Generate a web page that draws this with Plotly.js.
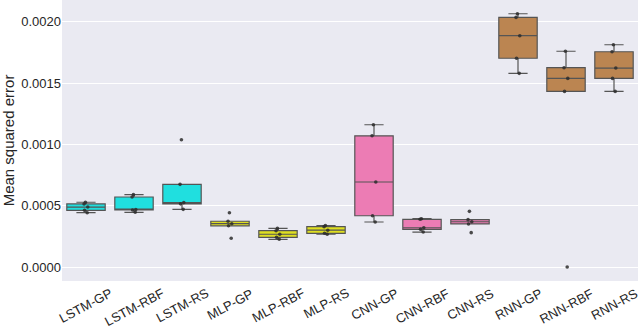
<!DOCTYPE html>
<html>
<head>
<meta charset="utf-8">
<script src="https://cdn.plot.ly/plotly-3.0.1.min.js"></script>
<style>
  html, body { margin: 0; padding: 0; background: #fff; }
  #plot { width: 640px; height: 326px; }
</style>
</head>
<body>
<div id="plot"></div>
<script>
// model / search-method combinations (5 runs each)
const categories = ['LSTM-GP', 'LSTM-RBF', 'LSTM-RS', 'MLP-GP', 'MLP-RBF', 'MLP-RS',
                    'CNN-GP', 'CNN-RBF', 'CNN-RS', 'RNN-GP', 'RNN-RBF', 'RNN-RS'];

const lstmGP  = [0.000443, 0.000462, 0.000489, 0.000514, 0.000528];
const lstmRBF = [0.000446, 0.000465, 0.000468, 0.000571, 0.000590];
const lstmRS  = [0.000470, 0.000515, 0.000525, 0.000674, 0.001038];
const mlpGP   = [0.000234, 0.000336, 0.000353, 0.000373, 0.000443];
const mlpRBF  = [0.000226, 0.000242, 0.000267, 0.000296, 0.000315];
const mlpRS   = [0.000267, 0.000275, 0.000300, 0.000329, 0.000338];
const cnnGP   = [0.000367, 0.000418, 0.000693, 0.001070, 0.001160];
const cnnRBF  = [0.000285, 0.000307, 0.000320, 0.000389, 0.000394];
const cnnRS   = [0.000280, 0.000351, 0.000369, 0.000386, 0.000454];
const rnnGP   = [0.001579, 0.001702, 0.001886, 0.002035, 0.002065];
const rnnRBF  = [0.000000, 0.001432, 0.001538, 0.001625, 0.001759];
const rnnRS   = [0.001432, 0.001538, 0.001622, 0.001755, 0.001812];

const series = [lstmGP, lstmRBF, lstmRS, mlpGP, mlpRBF, mlpRS,
                cnnGP, cnnRBF, cnnRS, rnnGP, rnnRBF, rnnRS];

// seaborn palette (cyan, yellow, hotpink, peru) at 0.75 saturation
const familyColors = ['#20dfdf', '#dfdf20', '#ec7cb4', '#bb8551'];

const textColor = '#262626';
const fontFamily = '"Liberation Sans", Arial, sans-serif';

const traces = categories.map((cat, i) => ({
    type: 'box',
    name: cat,
    x: series[i].map(() => cat),
    y: series[i],
    boxpoints: 'all',
    jitter: 0.12,
    pointpos: 0,
    width: 0.8,
    whiskerwidth: 0.5,
    quartilemethod: 'inclusive',
    fillcolor: familyColors[Math.floor(i / 3)],
    line: {color: '#555555', width: 1.2},
    marker: {color: 'rgba(45,45,45,0.85)', size: 3.6},
    showlegend: false,
    hoverinfo: 'y'
}));

// rotated category labels, centred under each box like matplotlib does
const labels = categories.map(cat => ({
    x: cat,
    xref: 'x',
    y: 0,
    yref: 'paper',
    yanchor: 'top',
    xanchor: 'center',
    yshift: -2,
    text: cat,
    textangle: -28,
    showarrow: false,
    font: {family: fontFamily, size: 13, color: textColor}
}));

const layout = {
    width: 640,
    height: 326,
    margin: {l: 62, r: 2, t: 0, b: 45},
    paper_bgcolor: '#ffffff',
    plot_bgcolor: '#eaeaf2',
    font: {family: fontFamily, size: 13, color: textColor},
    boxmode: 'overlay',
    xaxis: {
        type: 'category',
        range: [-0.5, 11.5],
        showticklabels: false,
        showgrid: false,
        zeroline: false,
        showline: false,
        ticks: ''
    },
    yaxis: {
        range: [-0.000114, 0.002177],
        dtick: 0.0005,
        tick0: 0,
        tickformat: '.4f',
        showgrid: true,
        gridcolor: '#ffffff',
        gridwidth: 1,
        zeroline: false,
        showline: false,
        ticks: '',
        tickfont: {family: fontFamily, size: 13, color: textColor},
        title: {
            text: 'Mean squared error',
            font: {family: fontFamily, size: 15, color: textColor},
            standoff: 4
        }
    },
    annotations: labels
};

Plotly.newPlot('plot', traces, layout, {displayModeBar: false, responsive: false});
</script>
</body>
</html>
